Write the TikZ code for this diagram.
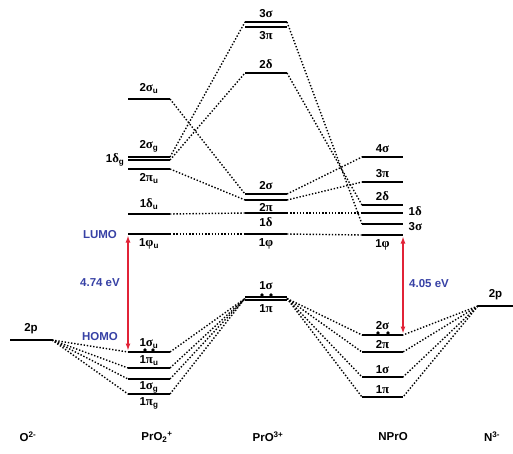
\documentclass[tikz,border=0pt]{standalone}
\usepackage{fontspec}
\setmainfont{Liberation Sans}
\newfontfamily\grkfont[Scale=1.12]{Liberation Serif}
\usepackage{xcolor}
\usetikzlibrary{arrows.meta,calc}
\definecolor{gapred}{RGB}{225,35,55}
\definecolor{gapblue}{RGB}{55,65,165}
\newcommand{\gr}[1]{{\grkfont\bfseries #1}}

\begin{document}
\begin{tikzpicture}[x=1pt, y=-1pt, font=\fontsize{11.5}{13}\selectfont\bfseries,
		level/.style={line width=1.3pt},
		corr/.style={line width=1.4pt, dash pattern=on 1.4pt off 1.8pt},
		lab/.style={inner sep=0pt},
		gap/.style={{Latex[length=7pt,width=5pt]}-{Latex[length=7pt,width=5pt]}, gapred, line width=1.3pt, shorten <=1.5pt, shorten >=1.5pt},
		note/.style={inner sep=0pt, text=gapblue}]
	\useasboundingbox (0,0) rectangle (513,454);
	
	% O2- 2p
	\draw[level] (10,340) -- (52,340) coordinate (o-2p-r) node[lab, midway, above=5pt] (o-2p) {2p};
	
	% PrO2+ levels
	\draw[level] (128,99) coordinate (a-su2-l) -- (170,99) coordinate (a-su2-r) node[lab, midway, above=5pt] (a-su2) {2\gr{σ}\textsubscript{u}};
	\draw[level] (128,157) coordinate (a-sg2-l) -- (170,157) coordinate (a-sg2-r) node[lab, midway, above=4pt] (a-sg2) {2\gr{σ}\textsubscript{g}};
	\draw[level] (128,160) coordinate (a-dg1-l) -- (170,160) coordinate (a-dg1-r) node[lab, pos=0, left=3pt] (a-dg1) {1\gr{δ}\textsubscript{g}};
	\draw[level] (128,169) coordinate (a-pu2-l) -- (170,169) coordinate (a-pu2-r) node[lab, midway, below=4pt] (a-pu2) {2\gr{π}\textsubscript{u}};
	\draw[level] (128,214) coordinate (a-du1-l) -- (170,214) coordinate (a-du1-r) node[lab, midway, above=4pt] (a-du1) {1\gr{δ}\textsubscript{u}};
	\draw[level] (128,234) coordinate (a-fu1-l) -- (170,234) coordinate (a-fu1-r) node[lab, midway, below=4pt] (a-fu1) {1\gr{φ}\textsubscript{u}};
	\draw[level] (128,352) coordinate (a-su1-l) -- (170,352) coordinate (a-su1-r) node[lab, midway, above=3pt] (a-su1) {1\gr{σ}\textsubscript{u}};
	\draw[level] (128,368) coordinate (a-pu1-l) -- (170,368) coordinate (a-pu1-r) node[lab, midway, above=2pt] (a-pu1) {1\gr{π}\textsubscript{u}};
	\draw[level] (128,379) coordinate (a-sg1-l) -- (170,379) coordinate (a-sg1-r) node[lab, midway, below=2pt] (a-sg1) {1\gr{σ}\textsubscript{g}};
	\draw[level] (128,394) coordinate (a-pg1-l) -- (170,394) coordinate (a-pg1-r) node[lab, midway, below=3pt] (a-pg1) {1\gr{π}\textsubscript{g}};
	\fill (145,350) circle (1.9) (153,350) circle (1.9);
	
	% PrO3+ levels
	\draw[level] (245,22) coordinate (b-s3-l) -- (287,22) coordinate (b-s3-r) node[lab, midway, above=4pt] (b-s3) {3\gr{σ}};
	\draw[level] (245,27) coordinate (b-p3-l) -- (287,27) coordinate (b-p3-r) node[lab, midway, below=4pt] (b-p3) {3\gr{π}};
	\draw[level] (245,73) coordinate (b-d2-l) -- (287,73) coordinate (b-d2-r) node[lab, midway, above=4pt] (b-d2) {2\gr{δ}};
	\draw[level] (245,194) coordinate (b-s2-l) -- (287,194) coordinate (b-s2-r) node[lab, midway, above=4pt] (b-s2) {2\gr{σ}};
	\draw[level] (245,200) coordinate (b-p2-l) -- (287,200) coordinate (b-p2-r) node[lab, midway, below=3pt] (b-p2) {2\gr{π}};
	\draw[level] (245,213) coordinate (b-d1-l) -- (287,213) coordinate (b-d1-r) node[lab, midway, below=4pt] (b-d1) {1\gr{δ}};
	\draw[level] (245,234) coordinate (b-f1-l) -- (287,234) coordinate (b-f1-r) node[lab, midway, below=4pt] (b-f1) {1\gr{φ}};
	\draw[level] (245,297) coordinate (b-s1-l) -- (287,297) coordinate (b-s1-r) node[lab, midway, above=7pt] (b-s1) {1\gr{σ}};
	\draw[level] (245,300) coordinate (b-p1-l) -- (287,300) coordinate (b-p1-r) node[lab, midway, below=4pt] (b-p1) {1\gr{π}};
	\fill (262,295) circle (1.9) (271,295) circle (1.9);
	
	% NPrO levels
	\draw[level] (362,157) coordinate (c-s4-l) -- (403,157) coordinate (c-s4-r) node[lab, midway, above=4pt] (c-s4) {4\gr{σ}};
	\draw[level] (362,182) coordinate (c-p3-l) -- (403,182) coordinate (c-p3-r) node[lab, midway, above=4pt] (c-p3) {3\gr{π}};
	\draw[level] (362,205) coordinate (c-d2-l) -- (403,205) coordinate (c-d2-r) node[lab, midway, above=4pt] (c-d2) {2\gr{δ}};
	\draw[level] (362,213) coordinate (c-d1-l) -- (403,213) coordinate (c-d1-r) node[lab, right=5pt, yshift=1.5pt] (c-d1) {1\gr{δ}};
	\draw[level] (362,224) coordinate (c-s3-l) -- (403,224) coordinate (c-s3-r) node[lab, right=5pt, yshift=-2.5pt] (c-s3) {3\gr{σ}};
	\draw[level] (362,235) coordinate (c-f1-l) -- (403,235) coordinate (c-f1-r) node[lab, midway, below=4pt] (c-f1) {1\gr{φ}};
	\draw[level] (362,335) coordinate (c-s2-l) -- (403,335) coordinate (c-s2-r) node[lab, midway, above=5pt] (c-s2) {2\gr{σ}};
	\draw[level] (362,352) coordinate (c-p2-l) -- (403,352) coordinate (c-p2-r) node[lab, midway, above=3pt] (c-p2) {2\gr{π}};
	\draw[level] (362,377) coordinate (c-s1-l) -- (403,377) coordinate (c-s1-r) node[lab, midway, above=3pt] (c-s1) {1\gr{σ}};
	\draw[level] (362,397) coordinate (c-p1-l) -- (403,397) coordinate (c-p1-r) node[lab, midway, above=3pt] (c-p1) {1\gr{π}};
	\fill (378,333) circle (1.9) (388,333) circle (1.9);
	
	% N3- 2p
	\draw[level] (478,306) coordinate (n-2p-l) -- (513,306) node[lab, midway, above=5pt] (n-2p) {2p};
	
	% Correlation lines O2- / PrO2+
	\foreach \m in {su1,pu1,sg1,pg1}
		\draw[corr] (o-2p-r) -- (a-\m-l);
	
	% Correlation lines PrO2+ / PrO3+
	\draw[corr] (a-su2-r) -- (b-s2-l);
	\draw[corr] (a-sg2-r) -- (b-s3-l);
	\draw[corr] (a-dg1-r) -- (b-d2-l);
	\draw[corr] (a-pu2-r) -- (b-p2-l);
	\draw[corr] (a-du1-r) -- (b-d1-l);
	\draw[corr] (a-fu1-r) -- (b-f1-l);
	\foreach \m in {su1,pu1,sg1,pg1}
		\draw[corr] (a-\m-r) -- ($(b-s1-l)!0.5!(b-p1-l)$);
	
	% Correlation lines PrO3+ / NPrO
	\draw[corr] (b-s3-r) -- (c-s3-l);
	\draw[corr] (b-d2-r) -- (c-d2-l);
	\draw[corr] (b-s2-r) -- (c-s4-l);
	\draw[corr] (b-p2-r) -- (c-p3-l);
	\draw[corr] (b-d1-r) -- (c-d1-l);
	\draw[corr] (b-f1-r) -- (c-f1-l);
	\foreach \m in {s2,p2,s1,p1}
		\draw[corr] ($(b-s1-r)!0.5!(b-p1-r)$) -- (c-\m-l);
	
	% Correlation lines NPrO / N3-
	\foreach \m in {s2,p2,s1,p1}
		\draw[corr] (n-2p-l) -- (c-\m-r);
	
	% HOMO-LUMO gaps
	\draw[gap] (a-fu1-l) -- (a-su1-l);
	\draw[gap] (c-f1-r) -- (c-s2-r);
	\node[note] (lumo) at (100,235) {LUMO};
	\node[note] (homo) at (100,337) {HOMO};
	\node[note] (gap-a) at (100,283) {4.74 eV};
	\node[note] (gap-c) at (429,284) {4.05 eV};
	
	% Species
	\node (sp-o) at (28,437) {O\textsuperscript{2-}};
	\node (sp-a) at (157,437) {PrO\textsubscript{2}\textsuperscript{+}};
	\node (sp-b) at (268,437) {PrO\textsuperscript{3+}};
	\node (sp-c) at (393,437) {NPrO};
	\node (sp-n) at (492,437) {N\textsuperscript{3-}};
\end{tikzpicture}
\end{document}
